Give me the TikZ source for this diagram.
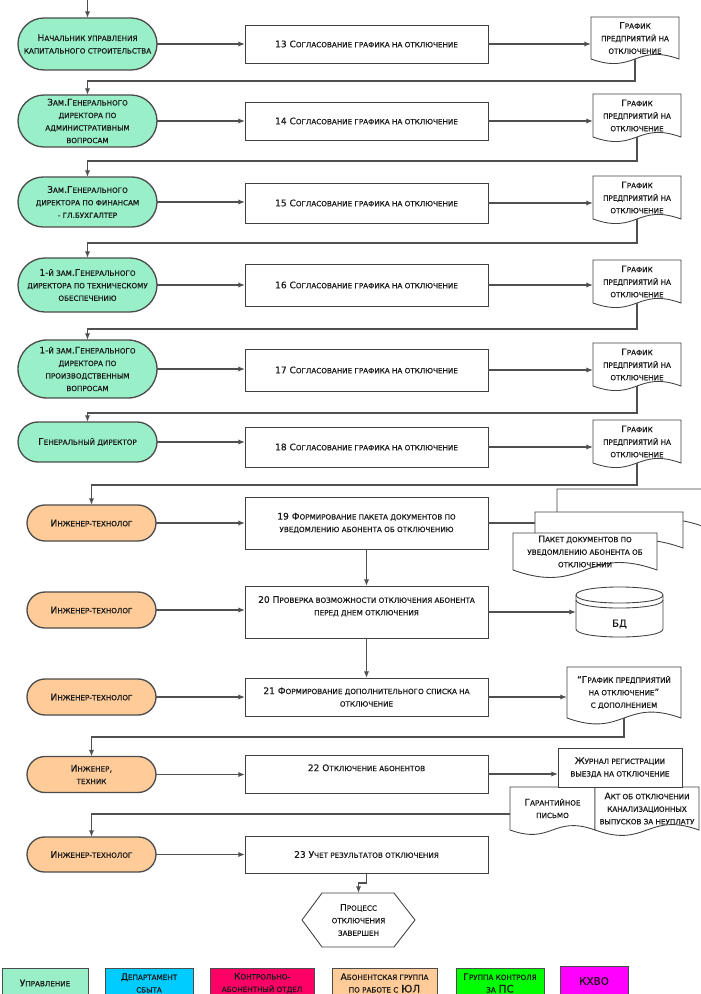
\documentclass[tikz,border=0pt]{standalone}
\usepackage{fontspec}
\setmainfont{DejaVu Sans}[FakeBold=0.6]
\usetikzlibrary{arrows.meta,calc,shapes.misc,backgrounds}
\definecolor{mint}{HTML}{99F0C8}
\definecolor{peach}{HTML}{FFCC99}
\definecolor{lnc}{HTML}{505050}
\definecolor{lgcyan}{HTML}{00CCFF}
\definecolor{lgred}{HTML}{FF0066}
\definecolor{lggreen}{HTML}{00FF00}
\definecolor{lgmag}{HTML}{FF00FF}
\newcommand\fsc[1]{{\fontsize{5.4pt}{9.4pt}\selectfont\MakeUppercase{#1}}}
\newcommand\lgcaps[1]{{\fontsize{7.8pt}{9.4pt}\selectfont #1}}
\newcommand\docoutline[1]{%
 \begin{pgfonlayer}{background}
 \draw[docln] let \p1=(#1.south west), \p2=(#1.north east),
   \n1={(\x2-\x1)/2}, \n2={0.18*(\x2-\x1)} in
   (\x1,\y1) -- (\x1,\y2) -- (\x2,\y2) -- (\x2,\y1)
   .. controls (\x2-\n1,\y1+\n2) and (\x1+\n1,\y1-\n2) .. (\x1,\y1) -- cycle;
 \end{pgfonlayer}}
\tikzset{
  sz/.style 2 args={minimum width=#1*0.75pt, minimum height=#2*0.75pt},
  txt/.style={font=\fontsize{6.8pt}{9.4pt}\selectfont, align=center, inner sep=0pt, outer sep=0pt, text=black!90},
  gst/.style={txt, shape=rounded rectangle, draw=black!70, line width=1pt, fill=mint},
  ost/.style={txt, shape=rounded rectangle, draw=black!70, line width=1pt, fill=peach},
  box/.style={txt, draw=black!75, line width=0.65pt, fill=white},
  doc/.style={txt},
  docln/.style={draw=black!75, line width=0.65pt, fill=white},
  ln/.style={draw=lnc, line width=1pt},
  arr/.style={ln, -{Latex[length=5pt,width=4pt]}},
  lg/.style={txt, draw=black!70, line width=0.75pt},
}
\begin{document}
\begin{tikzpicture}[x=0.75pt, y=-0.75pt]
\useasboundingbox (0,0) rectangle (700,994);

% ---------- stadiums ----------
\node[gst, sz={139}{52}] (s1) at (87.5,44) {Н\fsc{ачальник управления}\\\fsc{капитального строительства}};
\node[gst, sz={139}{52}] (s2) at (87.5,121) {З\fsc{ам}.Г\fsc{енерального}\\\fsc{директора по}\\\fsc{административным}\\\fsc{вопросам}};
\node[gst, sz={139}{50}] (s3) at (87.5,202) {З\fsc{ам}.Г\fsc{енерального}\\\fsc{директора по финансам}\\\fsc{- гл.бухгалтер}};
\node[gst, sz={139}{54}] (s4) at (87.5,285) {1-\fsc{й зам}.Г\fsc{енерального}\\\fsc{директора по техническому}\\\fsc{обеспечению}};
\node[gst, sz={139}{58}] (s5) at (87.5,369) {1-\fsc{й зам}.Г\fsc{енерального}\\\fsc{директора по}\\\fsc{производственным}\\\fsc{вопросам}};
\node[gst, sz={139}{40}] (s6) at (87.5,442) {Г\fsc{енеральный директор}};
\node[ost, sz={129}{36}] (s7) at (91.5,523) {И\fsc{нженер-технолог}};
\node[ost, sz={129}{36}] (s8) at (91.5,610) {И\fsc{нженер-технолог}};
\node[ost, sz={129}{36}] (s9) at (91.5,697) {И\fsc{нженер-технолог}};
\node[ost, sz={129}{36}] (s10) at (91.5,774.5) {И\fsc{нженер},\\\fsc{техник}};
\node[ost, sz={129}{35}] (s11) at (91.5,854.5) {И\fsc{нженер-технолог}};

% ---------- process boxes ----------
\node[box, sz={243}{38}] (b13) at (366.5,44) {13 С\fsc{огласование графика на отключение}};
\node[box, sz={243}{38}] (b14) at (366.5,121) {14 С\fsc{огласование графика на отключение}};
\node[box, sz={243}{40}] (b15) at (366.5,203) {15 С\fsc{огласование графика на отключение}};
\node[box, sz={243}{42}] (b16) at (366.5,285) {16 С\fsc{огласование графика на отключение}};
\node[box, sz={243}{42}] (b17) at (366.5,370) {17 С\fsc{огласование графика на отключение}};
\node[box, sz={243}{40}] (b18) at (366.5,447) {18 С\fsc{огласование графика на отключение}};
\node[box, sz={243}{52}] (b19) at (366.5,523) {19 Ф\fsc{ормирование пакета документов по}\\\fsc{уведомлению абонента об отключению}};
\node[box, sz={243}{52}] (b20) at (366.5,612) {20 П\fsc{роверка возможности отключения абонента}\\\fsc{перед днем отключения}\\\mbox{}};
\node[box, sz={243}{38}] (b21) at (366.5,697) {21 Ф\fsc{ормирование дополнительного списка на}\\\fsc{отключение}};
\node[box, sz={243}{38}] (b22) at (366.5,774) {22 О\fsc{тключение абонентов}\\\mbox{}};
\node[box, sz={243}{37}] (b23) at (366.5,854.5) {23 У\fsc{чет результатов отключения}};

% ---------- documents ----------
\node[doc, sz={88}{42}] (d1) at (635,38) {Г\fsc{рафик}\\\fsc{предприятий на}\\\fsc{отключение}};
\docoutline{d1}
\node[doc, sz={88}{43}] (d2) at (637,115.5) {Г\fsc{рафик}\\\fsc{предприятий на}\\\fsc{отключение}};
\docoutline{d2}
\node[doc, sz={88}{43}] (d3) at (637,197.5) {Г\fsc{рафик}\\\fsc{предприятий на}\\\fsc{отключение}};
\docoutline{d3}
\node[doc, sz={88}{43}] (d4) at (637,281.5) {Г\fsc{рафик}\\\fsc{предприятий на}\\\fsc{отключение}};
\docoutline{d4}
\node[doc, sz={88}{43}] (d5) at (637,364.5) {Г\fsc{рафик}\\\fsc{предприятий на}\\\fsc{отключение}};
\docoutline{d5}
\node[doc, sz={88}{43}] (d6) at (637,441.5) {Г\fsc{рафик}\\\fsc{предприятий на}\\\fsc{отключение}};
\docoutline{d6}
\node[doc, sz={114}{51}] (d9) at (624,692.5) {“Г\fsc{рафик предприятий}\\\fsc{на отключение}”\\\fsc{с дополнением}};
\docoutline{d9}

% multi-document
\node[doc, sz={148}{38}] (pk3) at (631,508) {};
\docoutline{pk3}
\node[doc, sz={148}{36}] (pk2) at (609,530) {};
\docoutline{pk2}
\node[doc, sz={144}{37}] (pk1) at (585,551.5) {П\fsc{акет документов по}\\\fsc{уведомлению абонента об}\\\fsc{отключении}};
\docoutline{pk1}

% journal + two docs
\node[box, sz={124}{39}] (j) at (620,767.5) {Ж\fsc{урнал регистрации}\\\fsc{выезда на отключение}};
\node[doc, sz={85}{43}] (g) at (552.5,808.5) {Г\fsc{арантийное}\\\fsc{письмо}};
\docoutline{g}
\node[doc, sz={104}{43}] (a) at (647,808.5) {А\fsc{кт об отключении}\\\fsc{канализационных}\\\fsc{выпусков за неуплату}};
\docoutline{a}

% database
\node[txt, sz={87}{50}] (db) at (619.5,612) {};
\draw[docln] (576,595) -- (576,629) .. controls (576,639.7) and (663,639.7) .. (663,629) -- (663,595)
  .. controls (663,584.3) and (576,584.3) .. (576,595) -- cycle;
\draw[docln, fill=none] (576,595) .. controls (576,605.7) and (663,605.7) .. (663,595);
\draw[docln, fill=none] (576,600) .. controls (576,610.7) and (663,610.7) .. (663,600);
\node[txt, font=\fontsize{7.4pt}{9pt}\selectfont] (dbt) at (619.5,624) {БД};

% end hexagon
\node[txt, sz={113}{54}] (hex) at (358.5,920) {П\fsc{роцесс}\\\fsc{отключения}\\\fsc{завершен}};
\draw[docln, fill=none] (hex.west) -- ($(hex.north west)+(20,0)$) -- ($(hex.north east)+(-21,0)$) -- (hex.east)
  -- ($(hex.south east)+(-21,0)$) -- ($(hex.south west)+(20,0)$) -- cycle;

% ---------- connectors ----------
\coordinate (top) at (87.5,0);
\draw[arr] (top) -- (s1.north);
\foreach \s/\b/\d in {s1/b13/d1, s2/b14/d2, s3/b15/d3, s4/b16/d4, s5/b17/d5, s6/b18/d6}{
  \draw[arr] (\s.east) -- (\s.east -| \b.west);
  \draw[arr] (\b.east) -- (\b.east -| \d.west);
}
\draw[arr] (d1.south) -- (d1.south |- 0,81) -| (s2.north);
\draw[arr] (d2.south) -- (d2.south |- 0,161) -| (s3.north);
\draw[arr] (d3.south) -- (d3.south |- 0,243) -| (s4.north);
\draw[arr] (d4.south) -- (d4.south |- 0,329) -| (s5.north);
\draw[arr] (d5.south) -- (d5.south |- 0,413) -| (s6.north);
\draw[arr] (d6.south) -- (d6.south |- 0,485) -| (s7.north);

\draw[arr] (s7.east) -- (s7.east -| b19.west);
\draw[ln] (b19.east) -- (b19.east -| pk2.west);
\draw[arr] (b19.south) -- (b20.north);
\draw[arr] (s8.east) -- (s8.east -| b20.west);
\draw[arr] (b20.east) -- (b20.east -| db.west);
\draw[arr] (b20.south) -- (b21.north);
\draw[arr] (s9.east) -- (s9.east -| b21.west);
\draw[arr] (b21.east) -- (b21.east -| d9.west);
\draw[arr] (d9.south) -- (d9.south |- 0,737) -| (s10.north);
\draw[arr] (s10.east) -- (s10.east -| b22.west);
\draw[arr] (b22.east) -- (b22.east -| j.west);
\draw[arr] ([yshift=-4pt]g.west) -| (s11.north);
\draw[arr] (s11.east) -- (s11.east -| b23.west);
\draw[arr] (b23.south) -- (b23.south |- 0,883) -| (hex.north);

% ---------- legend ----------
\node[lg, fill=mint, sz={86}{30}] (l1) at (45,983) {У\fsc{правление}};
\node[lg, fill=lgcyan, sz={88}{30}] (l2) at (149,983) {Д\fsc{епартамент}\\\fsc{сбыта}};
\node[lg, fill=lgred, sz={104}{30}] (l3) at (262,983) {К\fsc{онтрольно-}\\\fsc{абонентный отдел}};
\node[lg, fill=peach, sz={105}{30}] (l4) at (384.5,983) {А\fsc{бонентская группа}\\\fsc{по работе с} \lgcaps{ЮЛ}};
\node[lg, fill=lggreen, sz={88}{30}] (l5) at (500,983) {Г\fsc{руппа контроля}\\\fsc{за} \lgcaps{ПС}};
\node[lg, fill=lgmag, sz={68}{30}] (l6) at (594,981) {\lgcaps{КХВО}};
\end{tikzpicture}
\end{document}
